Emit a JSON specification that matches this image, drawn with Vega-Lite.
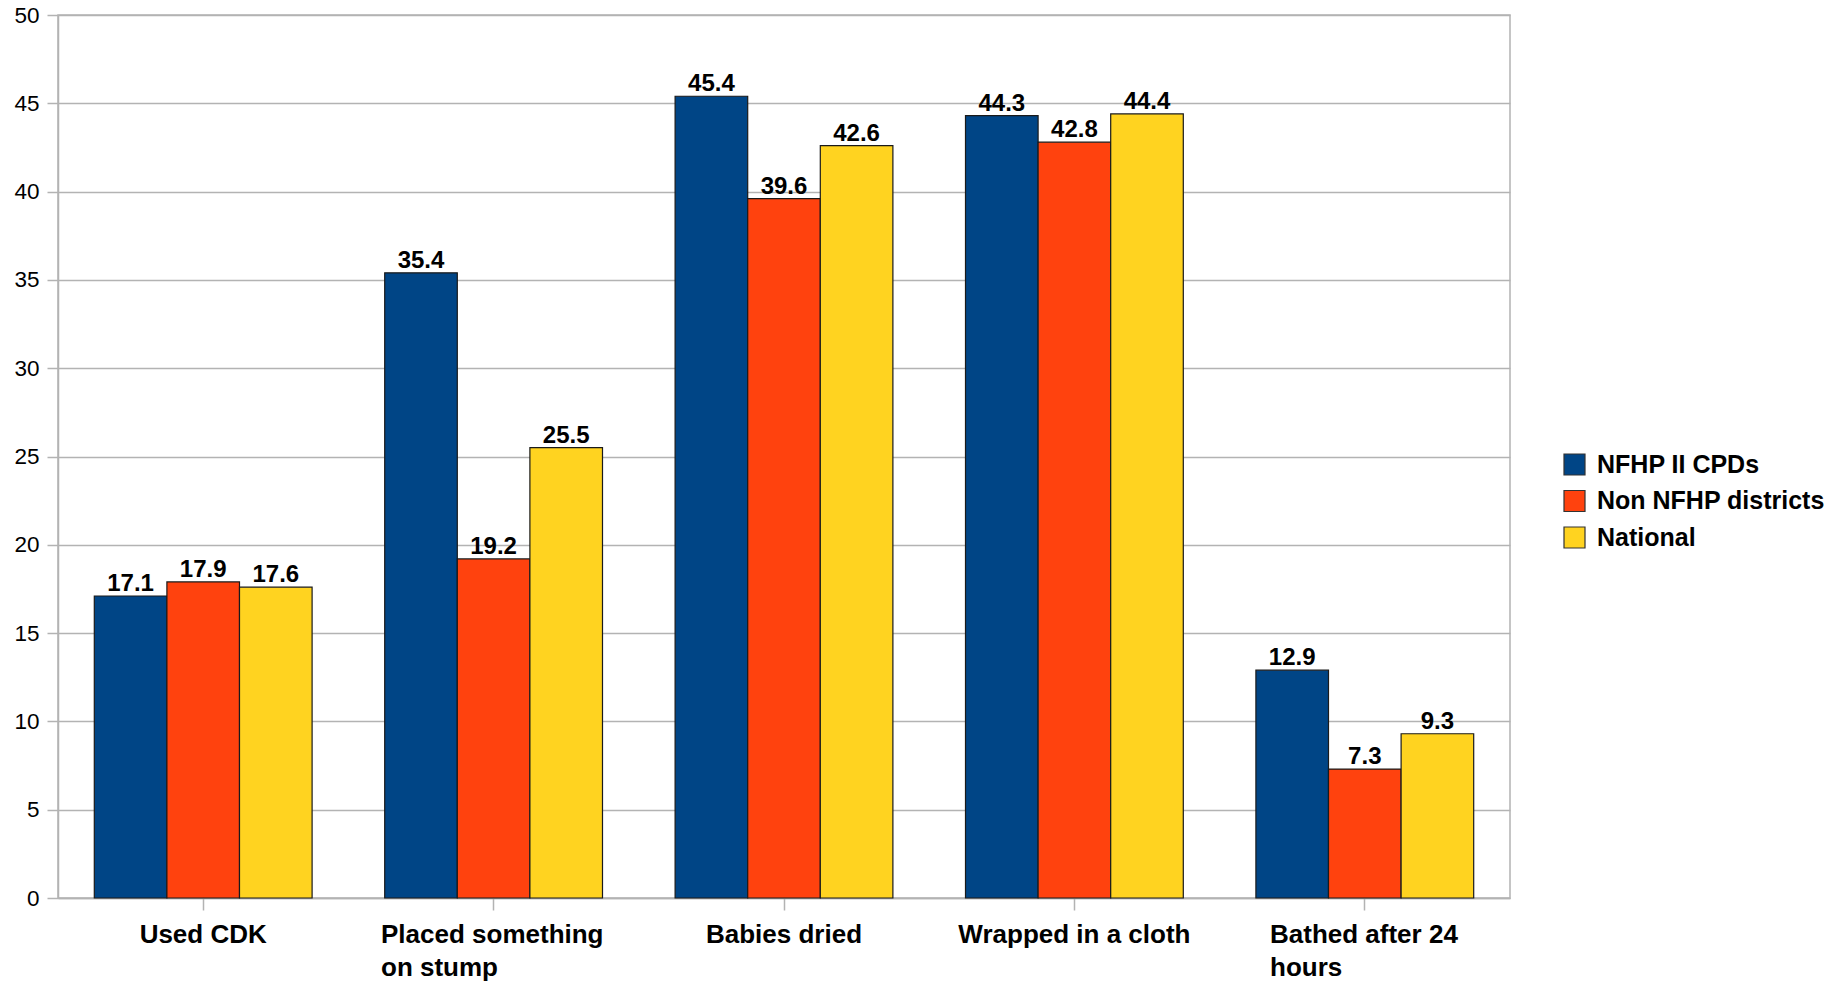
{
  "$schema": "https://vega.github.io/schema/vega-lite/v6.json",
  "width": 1452,
  "height": 883,
  "autosize": {"type": "none"},
  "padding": {"left": 58, "top": 15, "right": 335, "bottom": 83},
  "background": "white",
  "config": {
    "font": "Liberation Sans",
    "view": {"stroke": "#b3b3b3", "strokeWidth": 1.5}
  },
  "data": {
    "values": [
      {"cat": "Used CDK", "series": "NFHP II CPDs", "v": 17.1},
      {"cat": "Used CDK", "series": "Non NFHP districts", "v": 17.9},
      {"cat": "Used CDK", "series": "National", "v": 17.6},
      {"cat": "Placed something on stump", "series": "NFHP II CPDs", "v": 35.4},
      {"cat": "Placed something on stump", "series": "Non NFHP districts", "v": 19.2},
      {"cat": "Placed something on stump", "series": "National", "v": 25.5},
      {"cat": "Babies dried", "series": "NFHP II CPDs", "v": 45.4},
      {"cat": "Babies dried", "series": "Non NFHP districts", "v": 39.6},
      {"cat": "Babies dried", "series": "National", "v": 42.6},
      {"cat": "Wrapped in a cloth", "series": "NFHP II CPDs", "v": 44.3},
      {"cat": "Wrapped in a cloth", "series": "Non NFHP districts", "v": 42.8},
      {"cat": "Wrapped in a cloth", "series": "National", "v": 44.4},
      {"cat": "Bathed after 24 hours", "series": "NFHP II CPDs", "v": 12.9},
      {"cat": "Bathed after 24 hours", "series": "Non NFHP districts", "v": 7.3},
      {"cat": "Bathed after 24 hours", "series": "National", "v": 9.3}
    ]
  },
  "encoding": {
    "x": {
      "field": "cat",
      "type": "nominal",
      "sort": null,
      "scale": {"paddingInner": 0.25, "paddingOuter": 0.125},
      "axis": {
        "title": null,
        "labelAngle": 0,
        "labelFontSize": 26,
        "labelFontWeight": "bold",
        "labelColor": "black",
        "labelPadding": 11,
        "labelLineHeight": 33,
        "labelLimit": 0,
        "tickSize": 12,
        "tickColor": "#b3b3b3",
        "tickWidth": 1.5,
        "domainColor": "#b3b3b3",
        "domainWidth": 1.5,
        "labelExpr": "datum.value == 'Placed something on stump' ? ['Placed something', 'on stump'] : datum.value == 'Bathed after 24 hours' ? ['Bathed after 24', 'hours'] : datum.value",
        "labelAlign": {"condition": {"test": "datum.value == 'Placed something on stump' || datum.value == 'Bathed after 24 hours'", "value": "left"}, "value": "center"},
        "labelOffset": {"condition": [{"test": "datum.value == 'Placed something on stump'", "value": -112.6}, {"test": "datum.value == 'Bathed after 24 hours'", "value": -94.8}], "value": 0}
      }
    },
    "xOffset": {"field": "series", "type": "nominal", "sort": ["NFHP II CPDs", "Non NFHP districts", "National"], "scale": {"paddingInner": 0, "paddingOuter": 0}},
    "y": {
      "field": "v",
      "type": "quantitative",
      "scale": {"domain": [0, 50], "nice": false},
      "axis": {
        "title": null,
        "values": [0, 5, 10, 15, 20, 25, 30, 35, 40, 45, 50],
        "labelFontSize": 22.5,
        "labelColor": "black",
        "labelPadding": 8,
        "tickSize": 11,
        "tickColor": "#b3b3b3",
        "tickWidth": 1.5,
        "domainColor": "#b3b3b3",
        "domainWidth": 1.5,
        "gridColor": "#b3b3b3",
        "gridWidth": 1.5
      }
    }
  },
  "layer": [
    {
      "mark": {"type": "bar", "stroke": "#1a1a1a", "strokeWidth": 1.2},
      "encoding": {
        "color": {
          "field": "series",
          "type": "nominal",
          "sort": ["NFHP II CPDs", "Non NFHP districts", "National"],
          "scale": {"domain": ["NFHP II CPDs", "Non NFHP districts", "National"], "range": ["#004586", "#ff420e", "#ffd320"]},
          "legend": {
            "title": null,
            "orient": "none",
            "legendX": 1504,
            "legendY": 437,
            "padding": 0,
            "symbolType": "square",
            "symbolSize": 441,
            "symbolStrokeColor": "#333333",
            "symbolStrokeWidth": 1.2,
            "symbolOpacity": 1,
            "labelFontSize": 25,
            "labelFontWeight": "bold",
            "labelColor": "black",
            "labelOffset": 10,
            "labelLimit": 0,
            "rowPadding": 9.5
          }
        }
      }
    },
    {
      "mark": {"type": "text", "baseline": "alphabetic", "dy": -5, "fontSize": 24, "fontWeight": "bold", "color": "black"},
      "encoding": {
        "text": {"field": "v", "type": "quantitative", "format": ".1f"}
      }
    }
  ]
}
